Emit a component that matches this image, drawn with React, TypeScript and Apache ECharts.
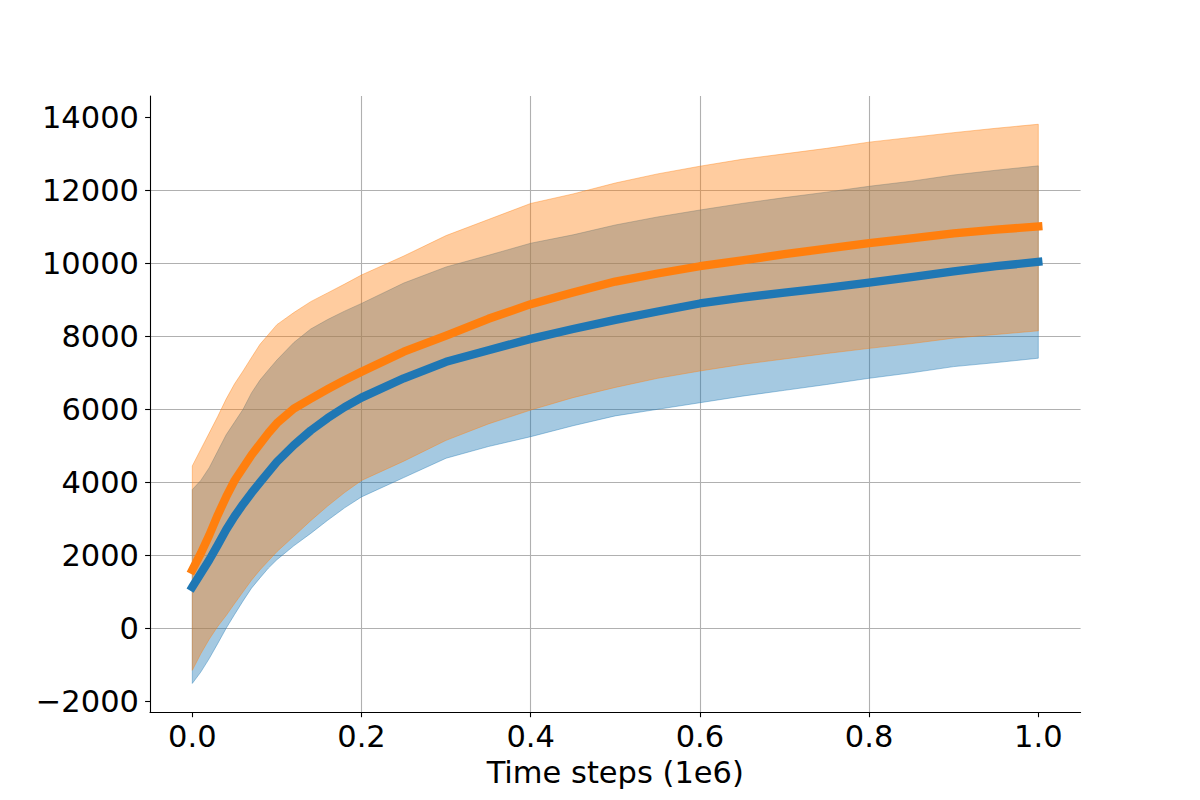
import React, { useEffect, useRef } from "react";
import * as echarts from "echarts";

const xs = [0, 0.01, 0.02, 0.03, 0.04, 0.05, 0.06, 0.07, 0.08, 0.09, 0.1, 0.12, 0.14, 0.16, 0.18, 0.2, 0.25, 0.3, 0.35, 0.4, 0.45, 0.5, 0.55, 0.6, 0.65, 0.7, 0.75, 0.8, 0.85, 0.9, 0.95, 1.0];

const blueMean = [1130, 1500, 1870, 2280, 2700, 3070, 3400, 3710, 4000, 4280, 4560, 5020, 5420, 5760, 6060, 6320, 6850, 7300, 7620, 7930, 8200, 8450, 8680, 8900, 9060, 9200, 9330, 9470, 9620, 9780, 9920, 10040];
const blueUpper = [3800, 4050, 4400, 4850, 5300, 5650, 6000, 6450, 6800, 7080, 7350, 7830, 8200, 8460, 8690, 8900, 9460, 9900, 10220, 10550, 10780, 11050, 11270, 11460, 11640, 11800, 11950, 12110, 12250, 12420, 12550, 12670];
const blueLower = [-1510, -1200, -830, -420, 0, 380, 750, 1100, 1380, 1650, 1880, 2260, 2600, 2960, 3300, 3600, 4130, 4660, 4980, 5250, 5550, 5820, 6000, 6180, 6360, 6520, 6680, 6850, 7000, 7170, 7280, 7400];

const orangeMean = [1600, 2050, 2550, 3100, 3600, 4050, 4400, 4750, 5050, 5350, 5620, 6020, 6290, 6550, 6800, 7030, 7580, 8020, 8480, 8880, 9200, 9500, 9720, 9920, 10080, 10250, 10400, 10550, 10680, 10820, 10920, 11010];
const orangeUpper = [4450, 4900, 5350, 5800, 6280, 6700, 7050, 7420, 7780, 8050, 8320, 8650, 8950, 9190, 9430, 9680, 10200, 10760, 11200, 11640, 11900, 12200, 12450, 12660, 12850, 13000, 13150, 13320, 13450, 13580, 13700, 13810];
const orangeLower = [-1150, -700, -300, 50, 350, 680, 1000, 1320, 1600, 1850, 2100, 2520, 2950, 3350, 3720, 4050, 4580, 5150, 5600, 5980, 6320, 6600, 6850, 7050, 7230, 7380, 7530, 7670, 7800, 7950, 8050, 8150];

const xTicks = [0, 0.2, 0.4, 0.6, 0.8, 1.0];
const yTicks = [-2000, 0, 2000, 4000, 6000, 8000, 10000, 12000, 14000];

const BLUE = "#1f77b4";
const ORANGE = "#ff7f0e";
const BLUE_A = "rgba(31,119,180,0.4)";
const ORANGE_A = "rgba(255,127,14,0.4)";
const FONT = "DejaVu Sans";
const FS = 30.5;

function zip(a: number[], b: number[]) {
  return a.map((x, i) => [x, b[i]]);
}

function bandSeries(name: string, lower: number[], upper: number[], colorA: string) {
  const data = xs.map((x, i) => [x, lower[i], upper[i]]);
  return {
    name,
    type: "custom",
    data,
    encode: { x: 0, y: [1, 2] },
    z: 2,
    renderItem: (params: any, api: any) => {
      if (params.dataIndex !== 0) return null;
      const top = data.map((d) => api.coord([d[0], d[2]]));
      const bottom = data.map((d) => api.coord([d[0], d[1]])).reverse();
      return {
        type: "polygon",
        shape: { points: top.concat(bottom) },
        style: { fill: colorA, stroke: colorA, lineWidth: 1 },
      };
    },
  };
}

function meanSeries(name: string, vals: number[], color: string) {
  return {
    name,
    type: "line",
    data: zip(xs, vals),
    symbol: "none",
    lineStyle: { color, width: 8.3, cap: "square", join: "round" },
    z: 5,
  };
}

export default function App() {
  const ref = useRef<HTMLDivElement>(null);
  useEffect(() => {
    if (!ref.current) return;
    const chart = echarts.init(ref.current, null, { renderer: "svg" });
    chart.setOption({
      animation: false,
      backgroundColor: "#ffffff",
      grid: { left: 150, right: 119.4, top: 96, bottom: 87.7, containLabel: false },
      xAxis: {
        type: "value",
        min: -0.05,
        max: 1.05,
        name: "Time steps (1e6)",
        nameLocation: "middle",
        nameGap: 35,
        nameTextStyle: { fontFamily: FONT, fontSize: FS, color: "#000" },
        axisLine: { show: true, onZero: false, lineStyle: { color: "#000", width: 1.1 } },
        axisTick: { show: true, length: 4.9, lineStyle: { color: "#000", width: 1.1 }, customValues: xTicks },
        axisLabel: {
          customValues: xTicks,
          fontFamily: FONT,
          fontSize: FS,
          color: "#000",
          margin: 9,
          formatter: (v: number) => v.toFixed(1),
        },
        splitLine: { show: true, showMinLine: false, showMaxLine: false, lineStyle: { color: "#b0b0b0", width: 1.1 } },
      },
      yAxis: {
        type: "value",
        min: -2301,
        max: 14584,
        axisLine: { show: true, onZero: false, lineStyle: { color: "#000", width: 1.1 } },
        axisTick: { show: true, length: 4.9, lineStyle: { color: "#000", width: 1.1 }, customValues: yTicks },
        axisLabel: {
          customValues: yTicks,
          fontFamily: FONT,
          fontSize: FS,
          color: "#000",
          margin: 11,
          formatter: (v: number) => (v < 0 ? "\u2212" + Math.abs(v) : String(v)),
        },
        splitLine: { show: true, showMinLine: false, showMaxLine: false, lineStyle: { color: "#b0b0b0", width: 1.1 } },
      },
      series: [
        bandSeries("blueBand", blueLower, blueUpper, BLUE_A),
        bandSeries("orangeBand", orangeLower, orangeUpper, ORANGE_A),
        meanSeries("blueMean", blueMean, BLUE),
        meanSeries("orangeMean", orangeMean, ORANGE),
      ],
    });
    return () => chart.dispose();
  }, []);
  return (
    <div
      ref={ref}
      style={{ position: "fixed", left: 0, top: 0, width: "1200px", height: "800px", background: "#fff" }}
    />
  );
}
